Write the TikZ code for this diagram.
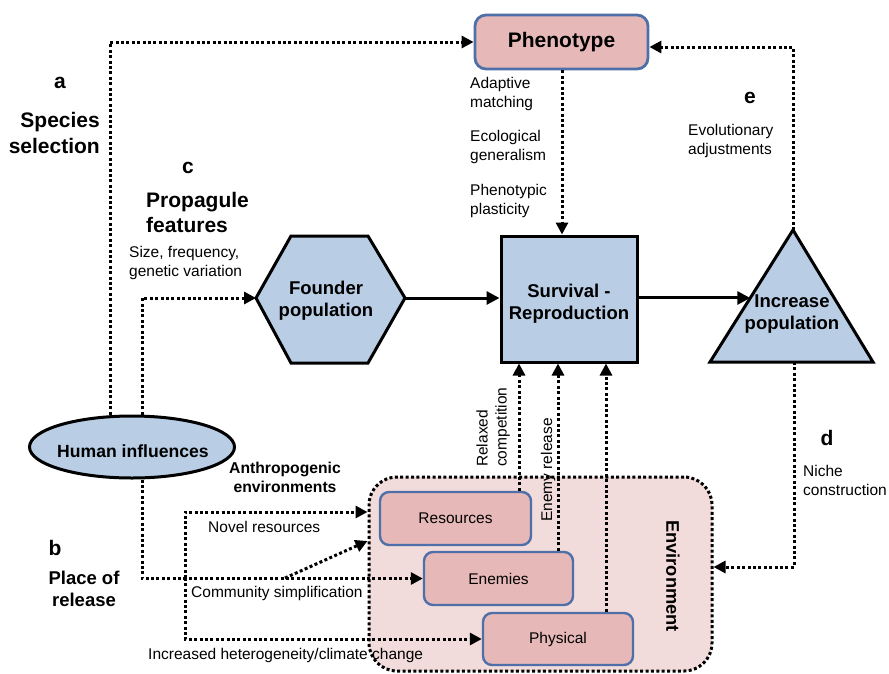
\documentclass[tikz,border=0pt]{standalone}
\usepackage{fontspec}
\setmainfont{Liberation Sans}
\usetikzlibrary{arrows.meta,calc,shapes.geometric}
\definecolor{bluef}{HTML}{B9CDE5}
\definecolor{pinkf}{HTML}{E6B9B8}
\definecolor{envf}{HTML}{F2DCDB}
\definecolor{bord}{HTML}{4F6FA8}
\begin{document}
\begin{tikzpicture}[x=1pt,y=-1pt,
 dl/.style={line width=3pt, dash pattern=on 3pt off 2.4pt},
 tip/.style={-{Triangle[length=12pt,width=12pt]}},
 solidarrow/.style={line width=3pt,-{Triangle[length=13pt,width=13pt]}},
 pinkbox/.style={draw=bord, line width=2.4pt, fill=pinkf, rounded corners=9pt, inner sep=0pt, font=\fontsize{15.5}{19}\selectfont},
 sm/.style={font=\fontsize{15.5}{19}\selectfont, align=left, inner sep=0pt},
 bl/.style={font=\bfseries\fontsize{21}{26}\selectfont, inner sep=0pt},
 nb/.style={font=\bfseries\fontsize{18.5}{22}\selectfont, align=center, inner sep=0pt},
]
\path[use as bounding box] (0,0) rectangle (889,673);

% helper coordinates
\coordinate (c110) at (110,0);
\coordinate (c142) at (142,0);
\coordinate (c519) at (519,0);
\coordinate (c558) at (558,0);
\coordinate (c562) at (562,0);
\coordinate (c606) at (606,0);
\coordinate (y47) at (0,47);
\coordinate (y512) at (0,512);
\coordinate (y541) at (0,541);
\coordinate (y567) at (0,567);

% Environment
\node[draw, dl, fill=envf, rounded corners=28pt, minimum width=343pt, minimum height=194pt, inner sep=0pt] (env) at (540.5,574) {};
\node[font=\bfseries\fontsize{18.3}{22}\selectfont, rotate=-90, inner sep=0pt] (envlab) at (673,576) {Environment};

\node[pinkbox, minimum width=151pt, minimum height=53pt] (res) at (455.5,518.5) {Resources};
\node[pinkbox, minimum width=149pt, minimum height=53pt] (en) at (498.5,578.5) {Enemies};
\node[pinkbox, minimum width=150pt, minimum height=52pt] (phy) at (558,639) {Physical};

% Phenotype
\node[pinkbox, line width=2.8pt, rounded corners=11pt, minimum width=173pt, minimum height=54pt, font=\bfseries\fontsize{21}{25}\selectfont] (pheno) at (561.5,42) {Phenotype};

% Survival
\node[draw, line width=3pt, fill=bluef, minimum width=136pt, minimum height=126pt] (surv) at (569,299) {};
\node[nb] (survtxt) at (569,304) {Survival -\\Reproduction};

% Founder hexagon
\coordinate (fL) at (256,298);
\coordinate (fR) at (405,298);
\draw[line width=3pt, fill=bluef, line join=miter] (fL) -- (291,236) -- (368,236) -- (fR) -- (368,363) -- (291,363) -- cycle;
\node[nb] (found) at (326,301) {Founder\\population};

% Increase triangle
\coordinate (tA) at (793,230);
\coordinate (tBL) at (710,362);
\coordinate (tBR) at (873,362);
\coordinate (tB) at (794,362);
\draw[line width=3pt, fill=bluef, line join=miter] (tA) -- (tBR) -- (tBL) -- cycle;
\node[nb] (inc) at (792,314) {Increase\\population};
\coordinate (tL) at ($(tBL)!0.485!(tA)$);

% Human influences
\node[ellipse, draw, line width=3pt, fill=bluef, minimum width=205pt, minimum height=62pt, inner sep=0pt] (hum) at (132,447) {};
\node[inner sep=0pt, font=\bfseries\fontsize{17.6}{21}\selectfont] (humtxt) at (133,451) {Human influences};

% Connectors
\draw[dl,tip] (hum.north -| c110) |- (pheno.west);
\draw[dl,tip] (hum.north -| c142) |- (fL);
\draw[solidarrow] (fR) -- (surv.west |- fR);
\draw[solidarrow] (surv.east |- tL) -- (tL);
\draw[dl,tip] (pheno.south -| c562) -- (surv.north -| c562);
\draw[dl,tip] (tA) |- (pheno.east |- y47);
\draw[dl,tip] (tB) |- (env.east |- y567);
\draw[dl,tip] (res.north -| c519) -- (surv.south -| c519);
\draw[dl,tip] (en.north -| c558) -- (surv.south -| c558);
\draw[dl,tip] (phy.north -| c606) -- (surv.south -| c606);
\draw[dl,tip] (hum.south -| c142) |- (en.west);
\coordinate (jL) at (185,578);
\coordinate (jM) at (285,578);
\draw[dl,tip] (jL) |- (env.west |- y512);
\draw[dl,tip] (jL) |- (phy.west);
\draw[dl,tip] (jM) -- (env.west |- y541);

% Labels
\node[bl] (la) at (60,83) {a};
\node[bl, align=right, anchor=east] (lsp) at (100,133) {Species\\selection};
\node[bl] (lc) at (188,168) {c};
\node[bl, align=left, anchor=west, font=\bfseries\fontsize{21}{25}\selectfont] (lpr) at (146,212.5) {Propagule\\features};
\node[sm, anchor=west] (lsz) at (129,262.5) {Size, frequency,\\genetic variation};
\node[sm, anchor=west] (lad) at (470,94) {Adaptive\\matching};
\node[sm, anchor=west] (lec) at (470,146.5) {Ecological\\generalism};
\node[sm, anchor=west] (lph) at (470,200.5) {Phenotypic\\plasticity};
\node[bl] (le) at (750,98) {e};
\node[sm, anchor=west] (lev) at (688,140.5) {Evolutionary\\adjustments};
\node[bl] (ld) at (827,438) {d};
\node[sm, anchor=west] (lni) at (803,480.5) {Niche\\construction};
\node[bl] (lb) at (55,548) {b};
\node[align=center, inner sep=0pt, font=\bfseries\fontsize{18.5}{22}\selectfont] (lpl) at (84,589) {Place of\\release};
\node[align=center, inner sep=0pt, font=\bfseries\fontsize{15.7}{19}\selectfont] (lan) at (285,477.5) {Anthropogenic\\environments};
\node[sm, anchor=west] (lnov) at (208,527) {Novel resources};
\node[sm, anchor=west] (lcom) at (191,593) {Community simplification};
\node[sm, anchor=west] (linc) at (148,655) {Increased heterogeneity/climate change};
\node[sm, rotate=90, anchor=west] (lrel) at (493,467) {Relaxed\\competition};
\node[sm, rotate=90] (lene) at (548,470) {Enemy release};
\end{tikzpicture}
\end{document}
